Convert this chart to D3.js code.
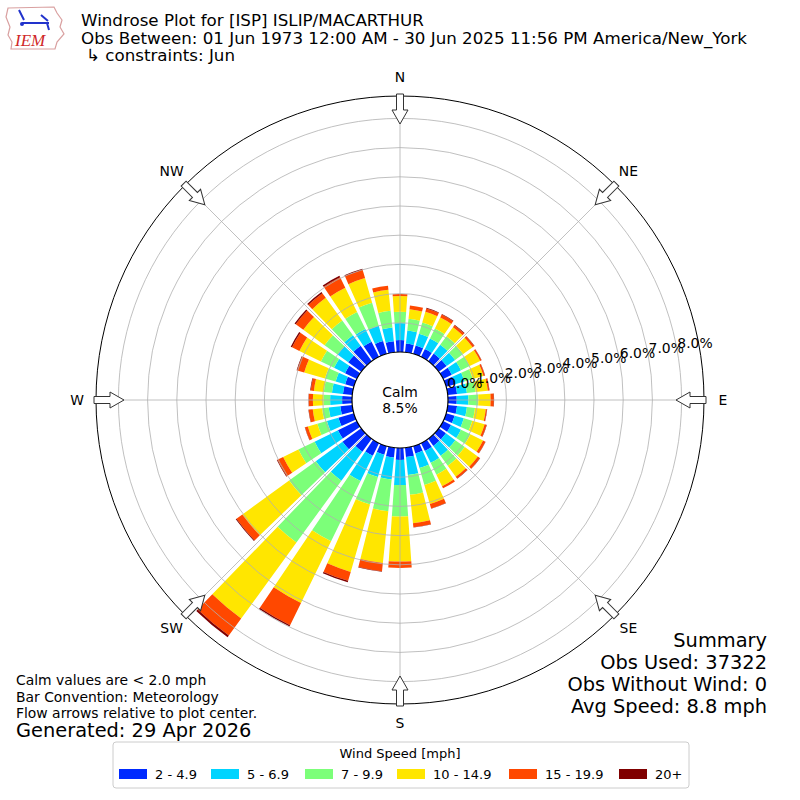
<!DOCTYPE html>
<html lang="en">
<head>
<meta charset="utf-8">
<title>Windrose ISP</title>
<script src="https://d3js.org/d3.v7.min.js"></script>
<style>
    body { margin: 0; background: #fff; }
    text { font-family: "DejaVu Sans", sans-serif; fill: #000; }
</style>
</head>
<body>
<div id="chart"></div>
<script>
    // direction bins (degrees, meteorological "from")
    const directions = [0, 10, 20, 30, 40, 50, 60, 70, 80, 90, 100, 110, 120, 130, 140, 150, 160, 170,
        180, 190, 200, 210, 220, 230, 240, 250, 260, 270, 280, 290, 300, 310, 320, 330, 340, 350];

    // percent of observations per direction for each speed bin
    const pct2to5 = [0.41, 0.30, 0.30, 0.30, 0.32, 0.33, 0.33, 0.32, 0.32, 0.30, 0.32, 0.30, 0.30, 0.30, 0.30, 0.30, 0.26, 0.32,
        0.41, 0.34, 0.31, 0.48, 0.55, 0.79, 0.72, 0.55, 0.41, 0.34, 0.32, 0.31, 0.45, 0.55, 0.65, 0.58, 0.46, 0.38];
    const pct5to7 = [0.58, 0.45, 0.42, 0.40, 0.38, 0.36, 0.35, 0.33, 0.34, 0.40, 0.34, 0.33, 0.38, 0.40, 0.42, 0.45, 0.52, 0.62,
        0.86, 0.75, 0.79, 0.96, 1.22, 1.13, 0.89, 0.41, 0.40, 0.41, 0.38, 0.34, 0.42, 0.45, 0.45, 0.48, 0.54, 0.47];
    const pct7to10 = [0.39, 0.40, 0.40, 0.38, 0.36, 0.34, 0.33, 0.30, 0.30, 0.34, 0.28, 0.30, 0.36, 0.40, 0.42, 0.45, 0.60, 0.68,
        1.08, 1.10, 0.98, 2.30, 2.62, 1.13, 0.62, 0.34, 0.23, 0.23, 0.28, 0.38, 0.50, 0.55, 0.62, 0.65, 0.82, 0.58];
    const pct10to15 = [0.54, 0.33, 0.38, 0.42, 0.38, 0.40, 0.40, 0.38, 0.42, 0.42, 0.37, 0.44, 0.48, 0.55, 0.46, 0.44, 0.68, 0.98,
        1.54, 1.78, 2.40, 2.35, 3.22, 1.98, 0.58, 0.34, 0.32, 0.36, 0.34, 0.74, 0.82, 0.90, 0.96, 0.92, 0.88, 0.72];
    const pct15to20 = [0.07, 0.13, 0.12, 0.11, 0.08, 0.07, 0.05, 0.05, 0.05, 0.11, 0.04, 0.07, 0.09, 0.09, 0.08, 0.08, 0.16, 0.14,
        0.22, 0.28, 0.32, 0.85, 0.72, 0.25, 0.22, 0.10, 0.14, 0.14, 0.11, 0.25, 0.28, 0.32, 0.20, 0.40, 0.30, 0.14];
    const pct20up = [0.00, 0.00, 0.02, 0.02, 0.02, 0.01, 0.01, 0.01, 0.01, 0.01, 0.01, 0.01, 0.01, 0.01, 0.01, 0.00, 0.01, 0.01,
        0.00, 0.02, 0.05, 0.05, 0.07, 0.03, 0.02, 0.01, 0.01, 0.01, 0.02, 0.02, 0.05, 0.05, 0.05, 0.06, 0.03, 0.00];

    const speedBins = ["2 - 4.9", "5 - 6.9", "7 - 9.9", "10 - 14.9", "15 - 19.9", "20+"];
    const binColors = ["#002aff", "#00d4ff", "#7cff79", "#ffe600", "#ff4800", "#800000"];
    const calmPct = 8.5;
    const ringTicks = [0, 1, 2, 3, 4, 5, 6, 7, 8];
    const compassLabels = ["N", "NE", "E", "SE", "S", "SW", "W", "NW"];
    const compassAngles = [0, 45, 90, 135, 180, 225, 270, 315];

    const w = 800;
    const h = 800;
    const cx = 400, cy = 400;
    const innerR = 48, outerR = 304;
    const rad = a => a * Math.PI / 180;

    const svg = d3.select("#chart").append("svg")
        .attr("width", w)
        .attr("height", h);

    // ---- header ----
    const logo = svg.append("g");
    logo.append("path")
        .attr("d", "M8,8 L54,7 L57,13 L62,20 L60,27 L64,34 L57,42 L55,49 L11,49 L12,42 L8,35 L10,27 L6,17 Z")
        .attr("fill", "none").attr("stroke", "#d9a0a0").attr("stroke-width", 1.2);
    logo.append("line").attr("x1", 22).attr("y1", 23).attr("x2", 49).attr("y2", 23)
        .attr("stroke", "#2233cc").attr("stroke-width", 2);
    logo.append("path").attr("d", "M19,10 L24,20 M41,15 L48,21 M47,23 L49,30")
        .attr("stroke", "#2233cc").attr("stroke-width", 2).attr("fill", "none");
    logo.append("circle").attr("cx", 22).attr("cy", 24).attr("r", 2).attr("fill", "#2233cc");
    logo.append("text").attr("x", 15).attr("y", 46)
        .style("font-family", "'Liberation Serif', serif").style("font-style", "italic")
        .style("font-size", "17px").style("fill", "#d02828").text("IEM");

    const titles = ["Windrose Plot for [ISP] ISLIP/MACARTHUR",
        "Obs Between: 01 Jun 1973 12:00 AM - 30 Jun 2025 11:56 PM America/New_York"];
    svg.selectAll("text.title").data(titles).enter().append("text")
        .attr("class", "title")
        .attr("x", 81).attr("y", (d, i) => 26 + i * 17.5)
        .style("font-size", "16.7px").text(d => d);
    svg.append("text").attr("x", 86).attr("y", 61)
        .style("font-size", "16.7px").text("\u21b3 constraints: Jun");

    // ---- rose ----
    const rScale = d3.scaleLinear()
        .domain([0, (outerR - innerR) / 29.2])
        .range([innerR, outerR]);

    const keys = ["b0", "b1", "b2", "b3", "b4", "b5"];
    const series = [pct2to5, pct5to7, pct7to10, pct10to15, pct15to20, pct20up];
    const rows = directions.map((dir, i) => {
        const row = { dir: dir };
        keys.forEach((k, j) => row[k] = series[j][i]);
        return row;
    });
    const stacked = d3.stack().keys(keys)(rows);

    const rose = svg.append("g").attr("transform", `translate(${cx},${cy})`);

    const arc = d3.arc()
        .innerRadius(d => rScale(d[0]))
        .outerRadius(d => rScale(d[1]))
        .startAngle(d => rad(d.data.dir - 4))
        .endAngle(d => rad(d.data.dir + 4));

    rose.selectAll("g.bin").data(stacked).enter().append("g")
        .attr("class", "bin")
        .attr("fill", (d, i) => binColors[i])
        .selectAll("path").data(d => d).enter().append("path")
        .attr("d", arc);

    // grid drawn above bars
    rose.selectAll("circle.ring").data(ringTicks.slice(1)).enter().append("circle")
        .attr("class", "ring")
        .attr("r", d => rScale(d))
        .attr("fill", "none").attr("stroke", "#b0b0b0").attr("stroke-width", 0.8);

    rose.selectAll("line.spoke").data(compassAngles).enter().append("line")
        .attr("class", "spoke")
        .attr("x1", d => innerR * Math.sin(rad(d)))
        .attr("y1", d => -innerR * Math.cos(rad(d)))
        .attr("x2", d => outerR * Math.sin(rad(d)))
        .attr("y2", d => -outerR * Math.cos(rad(d)))
        .attr("stroke", "#b0b0b0").attr("stroke-width", 0.8);

    rose.append("circle").attr("r", outerR)
        .attr("fill", "none").attr("stroke", "#000").attr("stroke-width", 1);

    rose.append("circle").attr("r", innerR)
        .attr("fill", "#fff").attr("stroke", "#000").attr("stroke-width", 1.2);

    rose.append("text").attr("text-anchor", "middle").attr("y", -3)
        .style("font-size", "13.9px").text("Calm");
    rose.append("text").attr("text-anchor", "middle").attr("y", 13)
        .style("font-size", "13.9px").text(calmPct.toFixed(1) + "%");

    // flow arrows pointing toward centre
    const arrowPath = "M0,-276 L8,-290 L3.5,-290 L3.5,-306 L-3.5,-306 L-3.5,-290 L-8,-290 Z";
    rose.selectAll("path.arrow").data(compassAngles).enter().append("path")
        .attr("class", "arrow")
        .attr("d", arrowPath)
        .attr("transform", d => `rotate(${d})`)
        .attr("fill", "#fff").attr("stroke", "#333").attr("stroke-width", 1);

    rose.selectAll("text.compass").data(compassAngles).enter().append("text")
        .attr("class", "compass")
        .attr("x", d => 323 * Math.sin(rad(d)))
        .attr("y", d => -323 * Math.cos(rad(d)))
        .attr("dy", "0.35em")
        .attr("text-anchor", "middle")
        .style("font-size", "13.9px")
        .text((d, i) => compassLabels[i]);

    const labelAngle = rad(80);
    rose.selectAll("text.rlabel").data(ringTicks).enter().append("text")
        .attr("class", "rlabel")
        .attr("x", d => rScale(d) * Math.sin(labelAngle))
        .attr("y", d => -rScale(d) * Math.cos(labelAngle) - 3.5)
        .style("font-size", "13.9px")
        .text(d => d.toFixed(1) + "%");

    // ---- notes ----
    const notes = ["Calm values are < 2.0 mph", "Bar Convention: Meteorology", "Flow arrows relative to plot center."];
    svg.selectAll("text.note").data(notes).enter().append("text")
        .attr("class", "note")
        .attr("x", 16).attr("y", (d, i) => 685 + i * 16.5)
        .style("font-size", "13.9px").text(d => d);
    svg.append("text").attr("x", 16).attr("y", 737)
        .style("font-size", "19.4px").text("Generated: 29 Apr 2026");

    const summary = ["Summary", "Obs Used: 37322", "Obs Without Wind: 0", "Avg Speed: 8.8 mph"];
    svg.selectAll("text.summary").data(summary).enter().append("text")
        .attr("class", "summary")
        .attr("x", 767).attr("y", (d, i) => 647 + i * 22)
        .attr("text-anchor", "end")
        .style("font-size", "19.4px").text(d => d);

    // ---- legend ----
    const legend = svg.append("g");
    legend.append("rect")
        .attr("x", 113).attr("y", 742).attr("width", 576).attr("height", 46).attr("rx", 3)
        .attr("fill", "#fff").attr("stroke", "#cccccc");
    legend.append("text").attr("x", 400).attr("y", 758).attr("text-anchor", "middle")
        .style("font-size", "13px").text("Wind Speed [mph]");
    const legendX = [119, 211, 305, 397, 509, 619];
    const item = legend.selectAll("g.item").data(speedBins).enter().append("g")
        .attr("class", "item")
        .attr("transform", (d, i) => `translate(${legendX[i]},769)`);
    item.append("rect").attr("width", 28).attr("height", 10)
        .attr("fill", (d, i) => binColors[i]);
    item.append("text").attr("x", 36).attr("y", 10)
        .style("font-size", "13px").text(d => d);
</script>
</body>
</html>
